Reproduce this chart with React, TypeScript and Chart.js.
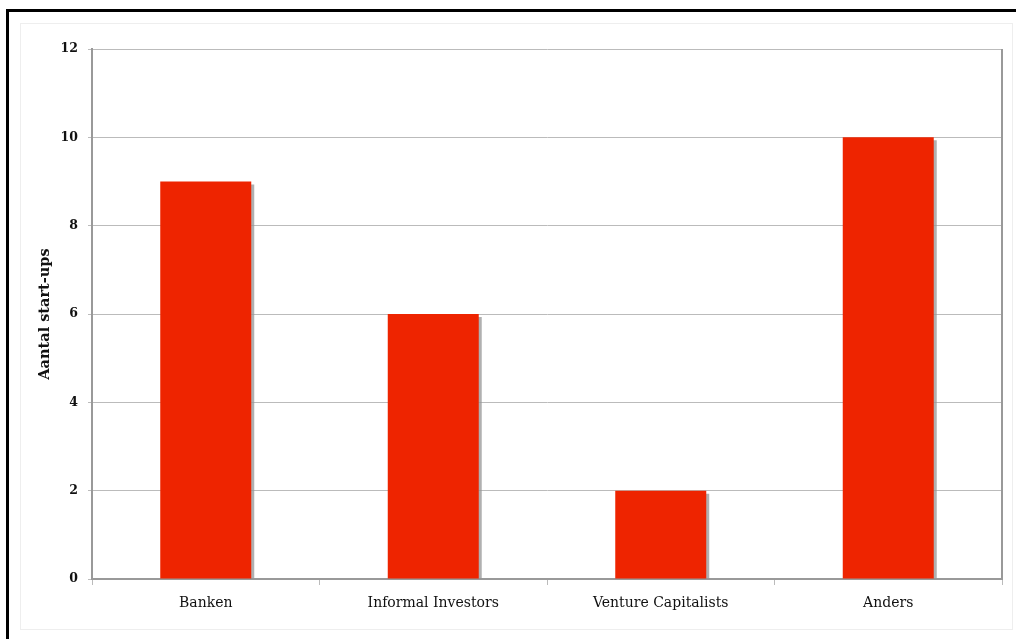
import React, { useEffect, useRef } from "react";
import { Chart, registerables } from "chart.js";

Chart.register(...registerables);

const categories: string[] = ["Banken", "Informal Investors", "Venture Capitalists", "Anders"];
const values: number[] = [9, 6, 2, 10];
const yTickMin = 0;
const yTickMax = 12;
const yTickStep = 2;
const yAxisTitle = "Aantal start-ups";

const barShadow = {
  id: "barShadow",
  beforeDatasetDraw(chart: any) {
    const ctx = chart.ctx;
    ctx.save();
    ctx.shadowColor = "rgba(150,150,150,0.75)";
    ctx.shadowOffsetX = 3;
    ctx.shadowOffsetY = 3;
    ctx.shadowBlur = 0;
  },
  afterDatasetDraw(chart: any) {
    chart.ctx.restore();
  },
};

const plotFrame = {
  id: "plotFrame",
  afterDraw(chart: any) {
    const { ctx, chartArea } = chart;
    ctx.save();
    ctx.strokeStyle = "#999999";
    ctx.lineWidth = 2;
    ctx.beginPath();
    ctx.moveTo(chartArea.right, chartArea.top);
    ctx.lineTo(chartArea.right, chartArea.bottom);
    ctx.stroke();
    ctx.restore();
  },
};

export default function App() {
  const ref = useRef<HTMLCanvasElement | null>(null);

  useEffect(() => {
    if (!ref.current) return;
    const chart = new Chart(ref.current, {
      type: "bar",
      data: {
        labels: categories,
        datasets: [
          {
            data: values,
            backgroundColor: "#ee2400",
            borderWidth: 0,
            barPercentage: 0.8,
            categoryPercentage: 0.5,
          },
        ],
      },
      options: {
        animation: false,
        responsive: true,
        maintainAspectRatio: false,
        layout: { padding: { left: 0, right: 14, top: 49, bottom: 0 } },
        plugins: {
          legend: { display: false },
          tooltip: { enabled: false },
        },
        scales: {
          x: {
            afterFit: (s: any) => {
              s.height = 60;
            },
            grid: {
              offset: true,
              drawOnChartArea: false,
              drawTicks: true,
              tickLength: 6,
              color: "#bbbbbb",
            },
            border: { color: "#999999", width: 2 },
            ticks: {
              color: "#111111",
              padding: 10,
              font: { family: "'DejaVu Serif', serif", size: 14 },
            },
          },
          y: {
            min: yTickMin,
            max: yTickMax,
            afterFit: (s: any) => {
              s.width = 92;
            },
            ticks: {
              stepSize: yTickStep,
              color: "#111111",
              padding: 10,
              font: { family: "'DejaVu Serif', serif", size: 12.5, weight: "bold" },
            },
            grid: {
              color: "#bbbbbb",
              tickLength: 4,
              lineWidth: 1,
            },
            border: { color: "#999999", width: 2 },
            title: {
              display: true,
              text: yAxisTitle,
              color: "#111111",
              padding: { top: 37, bottom: 0 },
              font: { family: "'DejaVu Serif', serif", size: 14.5, weight: "bold" },
            },
          },
        },
      },
      plugins: [barShadow, plotFrame],
    });
    return () => chart.destroy();
  }, []);

  return (
    <div style={{ position: "fixed", left: 0, top: 0, width: 1016, height: 639, background: "#ffffff", overflow: "hidden" }}>
      <div
        style={{
          position: "absolute",
          left: 6,
          top: 9,
          width: 1020,
          height: 640,
          borderTop: "3px solid #000",
          borderLeft: "3px solid #000",
          boxSizing: "border-box",
        }}
      />
      <div
        style={{
          position: "absolute",
          left: 20,
          top: 23,
          width: 993,
          height: 607,
          border: "1px solid #eeeeee",
          boxSizing: "border-box",
        }}
      />
      <div style={{ position: "absolute", left: 0, top: 0, width: 1016, height: 639 }}>
        <canvas ref={ref} />
      </div>
    </div>
  );
}
